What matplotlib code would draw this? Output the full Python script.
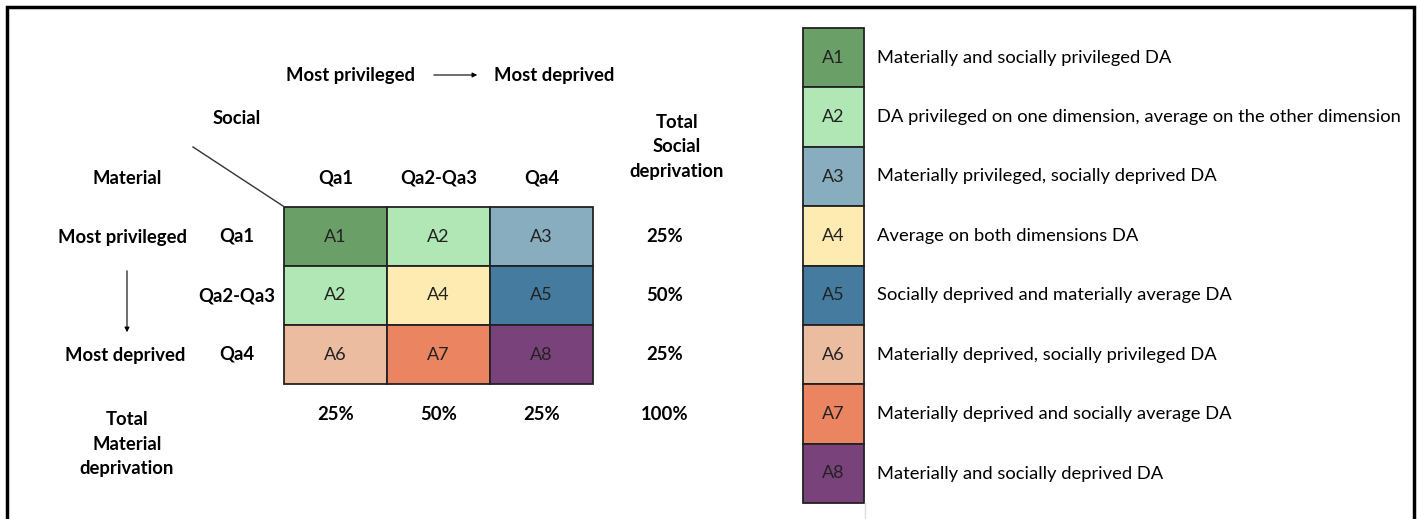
import matplotlib
matplotlib.use("Agg")
from matplotlib import pyplot as plt
from matplotlib.patches import Rectangle

plt.rcParams["font.family"] = ["Lato", "DejaVu Sans"]

# data
social_levels = ["Qa1", "Qa2-Qa3", "Qa4"]
material_levels = ["Qa1", "Qa2-Qa3", "Qa4"]
cell_codes = [["A1", "A2", "A3"],
              ["A2", "A4", "A5"],
              ["A6", "A7", "A8"]]
social_totals = ["25%", "50%", "25%"]
material_totals = ["25%", "50%", "25%"]
grand_total = "100%"
legend_codes = ["A1", "A2", "A3", "A4", "A5", "A6", "A7", "A8"]
legend_labels = [
    "Materially and socially privileged DA",
    "DA privileged on one dimension, average on the other dimension",
    "Materially privileged, socially deprived DA",
    "Average on both dimensions DA",
    "Socially deprived and materially average DA",
    "Materially deprived, socially privileged DA",
    "Materially deprived and socially average DA",
    "Materially and socially deprived DA",
]
code_colors = {
    "A1": "#6b9f68", "A2": "#b1e7b5", "A3": "#87adbe", "A4": "#feebb1",
    "A5": "#457b9f", "A6": "#ebbca0", "A7": "#ea8461", "A8": "#7a427b",
}

W, H = 1417, 519
fig = plt.figure(figsize=(W / 100, H / 100), dpi=100)
ax = fig.add_axes([0, 0, 1, 1])
ax.set_xlim(0, W)
ax.set_ylim(H, 0)
ax.axis("off")

# outer frame
ax.plot([7, 7, 1414, 1414], [H, 7, 7, H], color="black", lw=2.5,
        solid_joinstyle="miter")

bold = dict(fontsize=13.3, fontweight="bold", ha="center", va="center")
normal = dict(fontsize=13, ha="center", va="center", color="#222222")

# grid
gx0, gy0, cw, ch = 284, 207, 103, 59
for i, row in enumerate(cell_codes):
    for j, code in enumerate(row):
        ax.add_patch(Rectangle((gx0 + j * cw, gy0 + i * ch), cw, ch,
                               facecolor=code_colors[code], edgecolor="#222222",
                               lw=1.3))
        ax.text(gx0 + (j + 0.5) * cw, gy0 + (i + 0.5) * ch, code, **normal)

# headers
for j, lab in enumerate(social_levels):
    ax.text(gx0 + (j + 0.5) * cw, 178, lab, **bold)
    ax.text(gx0 + (j + 0.5) * cw, 414, material_totals[j], **bold)
for i, lab in enumerate(material_levels):
    ax.text(237, gy0 + (i + 0.5) * ch, lab, **bold)
    ax.text(665, gy0 + (i + 0.5) * ch, social_totals[i], **bold)
ax.text(665, 414, grand_total, **bold)

ax.text(351, 75, "Most privileged", **bold)
ax.text(554, 75, "Most deprived", **bold)
ax.annotate("", xy=(480, 75), xytext=(431, 75),
            arrowprops=dict(arrowstyle="-|>", color="black", lw=0.8,
                            mutation_scale=7))
ax.text(237, 118, "Social", **bold)
ax.text(677, 147, "Total\nSocial\ndeprivation", linespacing=1.55, **bold)
ax.text(127, 178, "Material", **bold)
ax.plot([193, 283], [147, 206], color="#333333", lw=1)
ax.text(123, 237, "Most privileged", **bold)
ax.text(125, 355, "Most deprived", **bold)
ax.annotate("", xy=(127, 335), xytext=(127, 268),
            arrowprops=dict(arrowstyle="-|>", color="black", lw=0.8,
                            mutation_scale=7))
ax.text(127, 444, "Total\nMaterial\ndeprivation", linespacing=1.55, **bold)

# legend
lx0, ly0, lw_, lh = 803, 28, 61, 59.4
for k, (code, lab) in enumerate(zip(legend_codes, legend_labels)):
    ax.add_patch(Rectangle((lx0, ly0 + k * lh), lw_, lh,
                           facecolor=code_colors[code], edgecolor="#222222",
                           lw=1.3))
    ax.text(lx0 + lw_ / 2, ly0 + (k + 0.5) * lh, code, **normal)
    ax.text(877, ly0 + (k + 0.5) * lh, lab, fontsize=13.2, ha="left",
            va="center", color="black")
ax.plot([865, 865], [ly0 + 8 * lh, H], color="#dddddd", lw=1)

fig.savefig("out.png", dpi=100)
